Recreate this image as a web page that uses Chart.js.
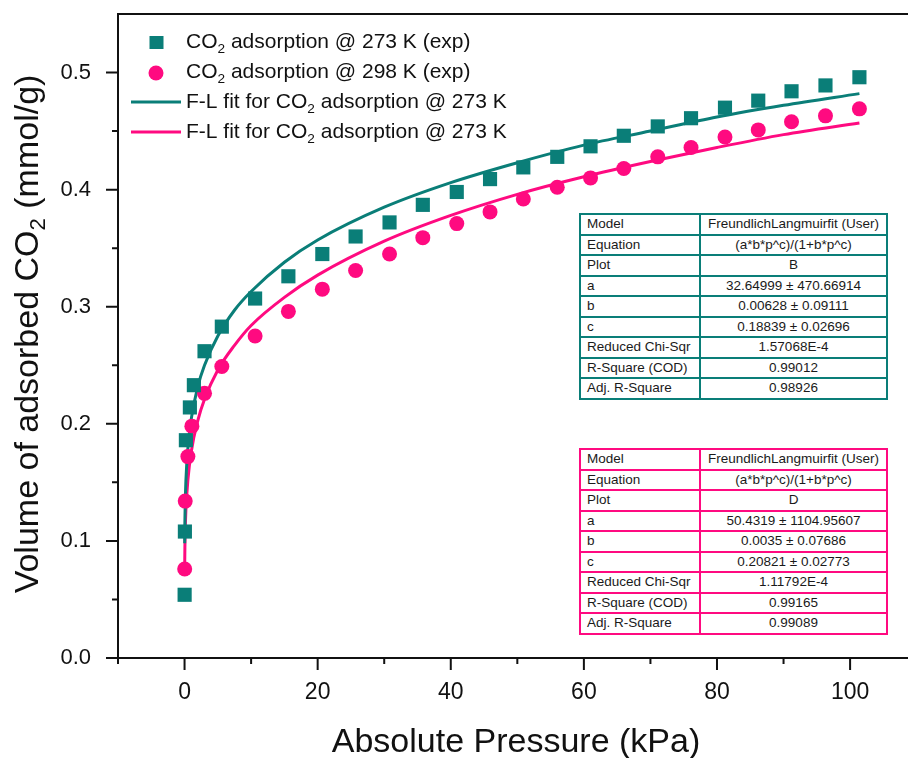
<!DOCTYPE html>
<html>
<head>
<meta charset="utf-8">
<script src="https://cdn.jsdelivr.net/npm/chart.js@4/dist/chart.umd.min.js"></script>
<style>
  body { margin: 0; background: #fff; }
  #wrap { position: relative; width: 908px; height: 758px; }
  .fit {
    position: absolute; left: 579px; width: 309px;
    border-collapse: collapse; table-layout: fixed;
    font: 13.5px "Liberation Sans", Arial, sans-serif; color: #1a1a1a;
    background: #fff;
  }
  .fit td { height: 18.5px; padding: 0 0 0 6px; white-space: nowrap; line-height: 18px; }
  .fit td + td { text-align: center; padding: 0; }
  .fit col.c1 { width: 120px; }
  #fitB { top: 213px; border: 2px solid #0a7e78; }
  #fitB td { border: 2px solid #0a7e78; }
  #fitD { top: 448px; border: 2px solid #ff0a80; }
  #fitD td { border: 2px solid #ff0a80; }
</style>
</head>
<body>
<div id="wrap">
  <canvas id="chart" width="908" height="758"></canvas>
  <table class="fit" id="fitB"><colgroup><col class="c1"><col></colgroup><tbody></tbody></table>
  <table class="fit" id="fitD"><colgroup><col class="c1"><col></colgroup><tbody></tbody></table>
</div>
<script>
// experimental isotherms (kPa, mmol/g)
const pressure273 = [0.01, 0.05, 0.2, 0.8, 1.4, 3.0, 5.6, 10.6, 15.6, 20.7, 25.7, 30.8, 35.8, 40.9, 45.9, 50.9, 56.0, 61.0, 66.0, 71.1, 76.1, 81.2, 86.2, 91.2, 96.3, 101.4];
const uptake273 = [0.054, 0.108, 0.186, 0.214, 0.233, 0.262, 0.283, 0.307, 0.326, 0.345, 0.360, 0.372, 0.387, 0.398, 0.409, 0.419, 0.428, 0.437, 0.446, 0.454, 0.461, 0.470, 0.476, 0.484, 0.489, 0.496];
const pressure298 = [0.02, 0.1, 0.5, 1.1, 3.0, 5.6, 10.6, 15.6, 20.7, 25.7, 30.8, 35.8, 40.9, 45.9, 50.9, 56.0, 61.0, 66.0, 71.1, 76.1, 81.2, 86.2, 91.2, 96.3, 101.4];
const uptake298 = [0.076, 0.134, 0.172, 0.198, 0.226, 0.249, 0.275, 0.296, 0.315, 0.331, 0.345, 0.359, 0.371, 0.381, 0.392, 0.402, 0.410, 0.418, 0.428, 0.436, 0.445, 0.451, 0.458, 0.463, 0.469];

// fitted curves
const fitPressure = [0.02, 0.05, 0.1, 0.2, 0.5, 1, 2, 3, 5, 7.5, 10, 15, 20, 30, 40, 50, 60, 70, 80, 90, 101.4];
const fit273 = [0.098, 0.116, 0.132, 0.151, 0.179, 0.204, 0.232, 0.250, 0.275, 0.297, 0.313, 0.338, 0.357, 0.385, 0.406, 0.423, 0.438, 0.450, 0.462, 0.472, 0.482];
const fit298 = [0.078, 0.094, 0.109, 0.126, 0.152, 0.176, 0.203, 0.221, 0.246, 0.267, 0.284, 0.308, 0.327, 0.356, 0.378, 0.396, 0.411, 0.424, 0.436, 0.447, 0.457];

// axis ticks
const xTicks = [0, 20, 40, 60, 80, 100];
const xMinor = [-10, 10, 30, 50, 70, 90];
const yTicks = [0.0, 0.1, 0.2, 0.3, 0.4, 0.5];
const yMinor = [0.05, 0.15, 0.25, 0.35, 0.45];

// fit report tables
const fitLabels = ['Model', 'Equation', 'Plot', 'a', 'b', 'c', 'Reduced Chi-Sqr', 'R-Square (COD)', 'Adj. R-Square'];
const fitValuesB = ['FreundlichLangmuirfit (User)', '(a*b*p^c)/(1+b*p^c)', 'B', '32.64999 ± 470.66914', '0.00628 ± 0.09111', '0.18839 ± 0.02696', '1.57068E-4', '0.99012', '0.98926'];
const fitValuesD = ['FreundlichLangmuirfit (User)', '(a*b*p^c)/(1+b*p^c)', 'D', '50.4319 ± 1104.95607', '0.0035 ± 0.07686', '0.20821 ± 0.02773', '1.11792E-4', '0.99165', '0.99089'];

const TEAL = '#0a7e78';
const PINK = '#ff0a80';
const FONT = '"Liberation Sans", Arial, sans-serif';

function fillTable(id, values) {
    const body = document.querySelector('#' + id + ' tbody');
    fitLabels.forEach((lab, i) => {
        const row = document.createElement('tr');
        row.innerHTML = `<td>${lab}</td><td>${values[i]}</td>`;
        body.appendChild(row);
    });
}
fillTable('fitB', fitValuesB);
fillTable('fitD', fitValuesD);

const toXY = (xs, ys) => xs.map((x, i) => ({ x: x, y: ys[i] }));

// text with a subscript "2" after CO
function drawSubText(ctx, parts, x, y, size, align) {
    let total = 0;
    parts.forEach(p => {
        ctx.font = (p.sub ? size * 0.65 : size) + 'px ' + FONT;
        p.w = ctx.measureText(p.t).width;
        total += p.w;
    });
    let cx = align === 'center' ? x - total / 2 : x;
    parts.forEach(p => {
        ctx.font = (p.sub ? size * 0.65 : size) + 'px ' + FONT;
        ctx.fillText(p.t, cx, p.sub ? y + size * 0.22 : y);
        cx += p.w;
    });
}

// keep the plot box fixed, no extra room for end labels
function noPad(s) {
    s.paddingLeft = 0; s.paddingRight = 0; s.paddingTop = 0; s.paddingBottom = 0;
}

const decor = {
    id: 'decor',
    afterDraw(chart) {
        const { ctx, chartArea: a, scales: { x, y } } = chart;
        ctx.save();
        ctx.strokeStyle = '#111';
        ctx.fillStyle = '#111';
        ctx.lineWidth = 2;
        ctx.beginPath();
        ctx.moveTo(a.left - 1, a.top);
        ctx.lineTo(a.right, a.top);
        // y ticks, outward
        yTicks.forEach(v => { const py = y.getPixelForValue(v); ctx.moveTo(a.left, py); ctx.lineTo(a.left - 12, py); });
        yMinor.forEach(v => { const py = y.getPixelForValue(v); ctx.moveTo(a.left, py); ctx.lineTo(a.left - 6, py); });
        // x ticks, outward
        xTicks.forEach(v => { const px = x.getPixelForValue(v); ctx.moveTo(px, a.bottom); ctx.lineTo(px, a.bottom + 12); });
        xMinor.forEach(v => { const px = x.getPixelForValue(v); ctx.moveTo(px, a.bottom); ctx.lineTo(px, a.bottom + 6); });
        ctx.stroke();

        // axis titles
        ctx.textBaseline = 'alphabetic';
        ctx.textAlign = 'left';
        drawSubText(ctx, [{ t: 'Absolute Pressure (kPa)' }], (a.left + a.right) / 2 + 3, 752, 34, 'center');
        ctx.save();
        ctx.translate(38, 334);
        ctx.rotate(-Math.PI / 2);
        drawSubText(ctx, [{ t: 'Volume of adsorbed CO' }, { t: '2', sub: true }, { t: ' (mmol/g)' }], 0, 0, 34, 'center');
        ctx.restore();

        // legend
        const rows = [
            { kind: 'rect', color: TEAL, y: 48, parts: [{ t: 'CO' }, { t: '2', sub: true }, { t: ' adsorption @ 273 K (exp)' }] },
            { kind: 'circle', color: PINK, y: 78, parts: [{ t: 'CO' }, { t: '2', sub: true }, { t: ' adsorption @ 298 K (exp)' }] },
            { kind: 'line', color: TEAL, y: 108, parts: [{ t: 'F-L fit for CO' }, { t: '2', sub: true }, { t: ' adsorption @ 273 K' }] },
            { kind: 'line', color: PINK, y: 138, parts: [{ t: 'F-L fit for CO' }, { t: '2', sub: true }, { t: ' adsorption @ 273 K' }] }
        ];
        rows.forEach(r => {
            const my = r.y - 5;
            ctx.fillStyle = r.color;
            ctx.strokeStyle = r.color;
            if (r.kind === 'rect') {
                ctx.fillRect(149.5, my - 7, 14, 13);
            } else if (r.kind === 'circle') {
                ctx.beginPath();
                ctx.arc(156, my, 7.5, 0, Math.PI * 2);
                ctx.fill();
            } else {
                ctx.lineWidth = 3;
                ctx.beginPath();
                ctx.moveTo(131, my - 1);
                ctx.lineTo(181, my - 1);
                ctx.stroke();
            }
            ctx.fillStyle = '#111';
            drawSubText(ctx, r.parts, 186, r.y, 21, 'left');
        });
        ctx.restore();
    }
};

new Chart(document.getElementById('chart'), {
    type: 'scatter',
    data: {
        datasets: [
            { label: 'CO2 adsorption @ 273 K (exp)', data: toXY(pressure273, uptake273), pointStyle: 'rect', pointRadius: 10, pointBackgroundColor: TEAL, pointBorderWidth: 0, showLine: false },
            { label: 'CO2 adsorption @ 298 K (exp)', data: toXY(pressure298, uptake298), pointStyle: 'circle', pointRadius: 7.5, pointBackgroundColor: PINK, pointBorderWidth: 0, showLine: false },
            { label: 'F-L fit 273 K', data: toXY(fitPressure, fit273), showLine: true, borderColor: TEAL, borderWidth: 3, pointRadius: 0, cubicInterpolationMode: 'monotone' },
            { label: 'F-L fit 298 K', data: toXY(fitPressure, fit298), showLine: true, borderColor: PINK, borderWidth: 3, pointRadius: 0, cubicInterpolationMode: 'monotone' }
        ]
    },
    options: {
        responsive: false,
        animation: false,
        layout: { autoPadding: false, padding: { top: 14, right: 0, left: 0, bottom: 0 } },
        plugins: { legend: { display: false }, tooltip: { enabled: false } },
        scales: {
            x: {
                type: 'linear', min: -10, max: 108.7,
                afterFit: s => { s.height = 100; noPad(s); },
                grid: { display: false, drawTicks: false },
                border: { display: true, color: '#111', width: 2 },
                ticks: {
                    stepSize: 10, includeBounds: false, padding: 21, color: '#111', maxRotation: 0, autoSkip: false,
                    font: { family: FONT, size: 23 },
                    callback: v => xTicks.includes(v) ? String(v) : ''
                }
            },
            y: {
                type: 'linear', min: 0, max: 0.55,
                afterFit: s => { s.width = 118; noPad(s); },
                grid: { display: false, drawTicks: false },
                border: { display: true, color: '#111', width: 2 },
                ticks: {
                    stepSize: 0.05, padding: 27, color: '#111', autoSkip: false,
                    font: { family: FONT, size: 22 },
                    callback: v => yTicks.some(t => Math.abs(t - v) < 1e-6) ? v.toFixed(1) : ''
                }
            }
        }
    },
    plugins: [decor]
});
</script>
</body>
</html>
